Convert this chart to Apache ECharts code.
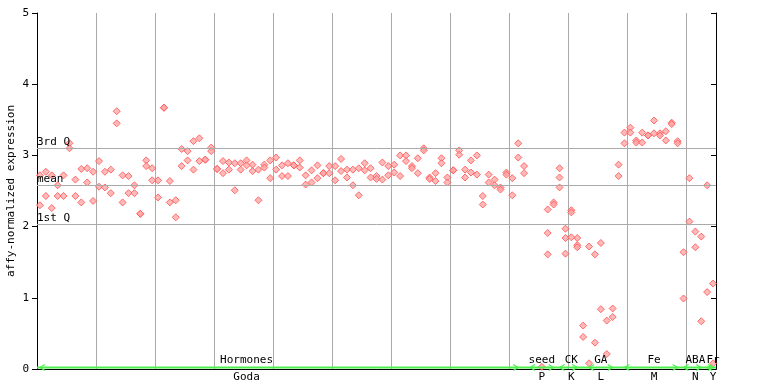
<!DOCTYPE html>
<html><head><meta charset="utf-8">
<script src="https://cdn.jsdelivr.net/npm/echarts@6/dist/echarts.min.js"></script>
<style>html,body{margin:0;padding:0;background:#fff}#c{width:768px;height:384px}</style>
</head><body><div id="c"></div>
<script>
// ---- data ----
const sampleCount = 115;
const samples = Array.from({length: sampleCount}, (_, i) => 'S' + (i + 1));
const rep1 = [2.72,2.77,2.72,2.58,2.72,3.17,2.66,2.81,2.82,2.77,
  2.92,2.77,2.80,3.62,2.72,2.71,2.58,2.18,2.93,2.82,
  2.65,3.67,2.64,2.37,3.09,3.06,3.20,3.24,2.94,3.11,
  2.81,2.92,2.90,2.89,2.89,2.93,2.87,2.80,2.87,2.93,
  2.97,2.86,2.89,2.86,2.93,2.72,2.79,2.86,2.75,2.85,
  2.85,2.95,2.80,2.80,2.82,2.89,2.82,2.71,2.90,2.85,
  2.87,3.00,3.00,2.85,2.96,3.10,2.69,2.75,2.96,2.69,
  2.79,3.07,2.80,2.93,3.00,2.43,2.73,2.66,2.55,2.76,
  2.68,3.17,2.85,null,null,0.03,2.24,2.34,2.82,1.97,
  2.23,1.84,0.61,1.72,1.61,1.77,0.68,0.85,2.87,3.32,
  3.39,3.21,3.32,3.28,3.49,3.31,3.34,3.46,3.20,1.64,
  2.68,1.93,1.86,2.58,1.20];
const rep2 = [2.30,2.43,2.26,2.43,2.43,3.10,2.43,2.34,2.62,2.36,
  2.56,2.55,2.47,3.45,2.34,2.47,2.47,2.18,2.85,2.65,
  2.41,3.67,2.34,2.13,2.85,2.93,2.80,2.92,2.94,3.06,
  2.81,2.75,2.80,2.51,2.80,2.86,2.78,2.37,2.83,2.68,
  2.80,2.71,2.71,2.86,2.83,2.59,2.62,2.68,2.75,2.75,
  2.65,2.78,2.69,2.58,2.44,2.79,2.69,2.67,2.66,2.72,
  2.76,2.71,2.92,2.82,2.75,3.07,2.67,2.64,2.89,2.62,
  2.79,3.01,2.69,2.76,2.73,2.31,2.62,2.58,2.52,2.73,
  2.44,2.97,2.75,null,null,null,1.91,2.31,2.69,1.84,
  2.20,1.74,0.45,0.08,0.37,0.84,0.21,0.73,2.71,3.17,
  3.32,3.18,3.18,3.28,3.31,3.28,3.21,3.44,3.17,0.99,
  2.07,1.71,0.67,1.08,0.08];
const rep3 = Array(sampleCount).fill(null);
rep3[86] = 1.61; rep3[88] = 2.55; rep3[89] = 1.62; rep3[90] = 1.85; rep3[91] = 1.71;

const yTicks = [0, 1, 2, 3, 4, 5];
const qNames = ['3rd Q', 'mean', '1st Q'];
const qValues = [3.10, 2.58, 2.03];

const groups = [
  {label: 'Hormones', study: 'Goda', start: 0, end: 81},
  {label: 'seed', study: 'P', start: 83, end: 87},
  {label: 'CK', study: 'K', start: 88, end: 91},
  {label: 'GA', study: 'L', start: 93, end: 97},
  {label: 'Fe', study: 'M', start: 99, end: 108},
  {label: 'ABA', study: 'N', start: 109, end: 112},
  {label: 'Fr', study: 'Y', start: 113, end: 114}
];

// ---- layout / style ----
const LABEL_ANCHOR = {Hormones: 34.5, seed: 84.5, CK: 90, GA: 95};
const FONT = '11px "DejaVu Sans Mono", monospace';
const GREEN = '#4cf04c';
const RED = '#ff5050';

const chart = echarts.init(document.getElementById('c'), null, {renderer: 'canvas'});

function scatter(data) {
  return {
    type: 'scatter', data: data, symbol: 'diamond', symbolSize: 7,
    itemStyle: {color: '#ffa8a8', borderColor: RED, borderWidth: 1},
    z: 3, silent: true, animation: false
  };
}

const s1 = scatter(rep1);
s1.markLine = {
  silent: true, symbol: 'none', animation: false,
  lineStyle: {color: '#aaaaaa', width: 1, type: 'solid'},
  label: {position: 'insideStartTop', formatter: p => p.name, color: '#000',
          fontFamily: '"DejaVu Sans Mono", monospace', fontSize: 11, distance: [0, 1], padding: 0},
  data: qValues.map((v, k) => ({yAxis: v, name: qNames[k]}))
};

const groupSeries = {
  type: 'custom', z: 5, silent: true, animation: false, clip: false,
  data: groups.map((g, k) => [g.start, g.end, k]),
  encode: {x: [0, 1]},
  renderItem: function (params, api) {
    const g = groups[api.value(2)];
    const p0 = api.coord([api.value(0), 0]);
    const p1 = api.coord([api.value(1), 0]);
    const y = p0[1] - 1.5;
    const mid = (g.label in LABEL_ANCHOR) ? LABEL_ANCHOR[g.label] : (g.start + g.end) / 2;
    const pm = api.coord([mid, 0]);
    const children = [];
    if (params.dataIndex === 0) {
      const cs = params.coordSys;
      children.push({type: 'line', shape: {x1: cs.x, y1: y, x2: cs.x + cs.width, y2: y},
        style: {stroke: GREEN, lineWidth: 2}});
    }
    children.push({type: 'polyline', shape: {points: [[p0[0] + 5, y - 3], [p0[0], y], [p0[0] + 5, y + 3]]},
      style: {stroke: GREEN, lineWidth: 1.2, fill: null}});
    children.push({type: 'polyline', shape: {points: [[p1[0] - 5, y - 3], [p1[0], y], [p1[0] - 5, y + 3]]},
      style: {stroke: GREEN, lineWidth: 1.2, fill: null}});
    children.push({type: 'text', style: {text: g.label, x: pm[0], y: y - 1.5,
      textAlign: 'center', textVerticalAlign: 'bottom', align: 'center', verticalAlign: 'bottom',
      font: FONT, fill: '#000'}});
    children.push({type: 'text', style: {text: g.study, x: pm[0], y: p0[1] + 3,
      textAlign: 'center', textVerticalAlign: 'top', align: 'center', verticalAlign: 'top',
      font: FONT, fill: '#000'}});
    return {type: 'group', children: children};
  }
};

chart.setOption({
  animation: false,
  backgroundColor: '#fff',
  grid: {left: 37, top: 13, width: 679, height: 356, outerBoundsMode: 'none'},
  xAxis: [
    {type: 'category', data: samples, boundaryGap: true,
     axisLine: {lineStyle: {color: '#000', width: 1}},
     axisTick: {show: false, interval: 9}, axisLabel: {show: false, interval: 9},
     splitLine: {show: true, interval: 9, lineStyle: {color: '#aaaaaa', width: 1}}},
    {type: 'category', data: samples, position: 'top', boundaryGap: true,
     axisLine: {lineStyle: {color: '#000', width: 1}},
     axisTick: {show: false}, axisLabel: {show: false}, splitLine: {show: false}}
  ],
  yAxis: [
    {type: 'value', min: yTicks[0], max: yTicks[yTicks.length - 1], interval: 1,
     name: 'affy-normalized expression', nameLocation: 'middle', nameGap: 20, nameRotate: 90,
     nameMoveOverlap: false,
     nameTextStyle: {fontFamily: '"DejaVu Sans Mono", monospace', fontSize: 11, color: '#000'},
     axisLine: {show: true, lineStyle: {color: '#000', width: 1}},
     axisTick: {show: true, length: 5, lineStyle: {color: '#000'}},
     axisLabel: {margin: 8, color: '#000', fontFamily: '"DejaVu Sans Mono", monospace', fontSize: 11},
     splitLine: {show: false}},
    {type: 'value', min: yTicks[0], max: yTicks[yTicks.length - 1], interval: 1, position: 'right',
     axisLine: {show: true, lineStyle: {color: '#000', width: 1}},
     axisTick: {show: true, inside: true, length: 5, lineStyle: {color: '#000'}},
     axisLabel: {show: false}, splitLine: {show: false}}
  ],
  series: [s1, scatter(rep2), scatter(rep3), groupSeries]
});
</script>
</body></html>
